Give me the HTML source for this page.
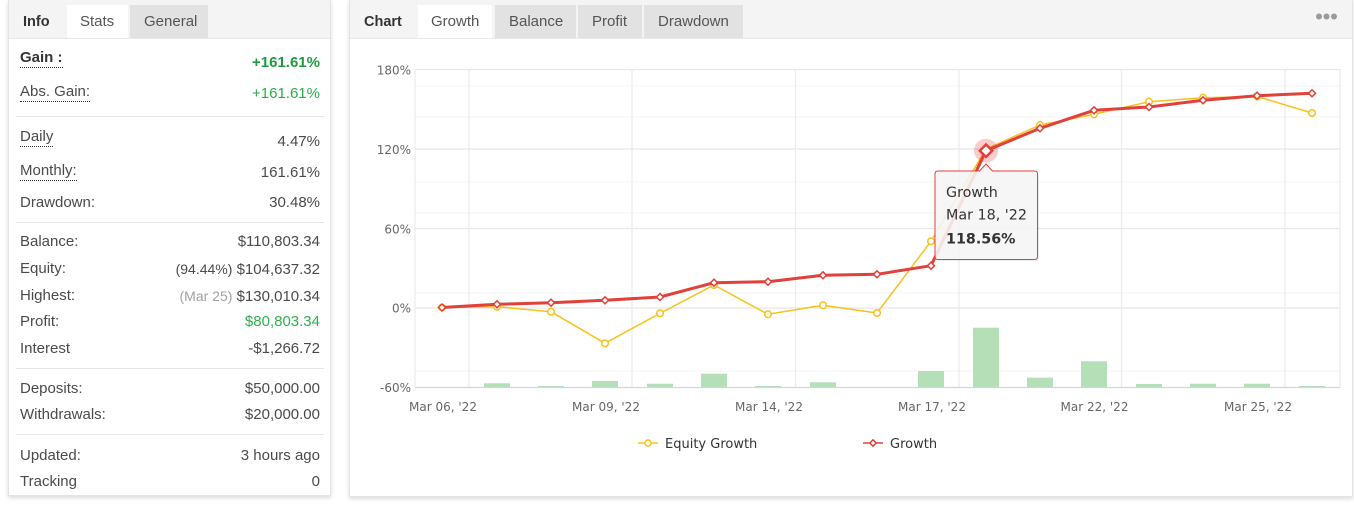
<!DOCTYPE html>
<html>
<head>
<meta charset="utf-8">
<style>
  html,body{margin:0;padding:0;background:#fff;}
  body{width:1354px;height:505px;position:relative;overflow:hidden;font-family:"Liberation Sans",Arial,sans-serif;}
  .panel{position:absolute;background:#fff;border:1px solid #e4e4e4;box-shadow:0 2px 4px rgba(0,0,0,0.14);box-sizing:border-box;}
  .hdr{position:absolute;background:#f4f4f4;border-bottom:1px solid #e9e9e9;box-sizing:border-box;}
  .tab{position:absolute;top:5px;height:33px;box-sizing:border-box;}
  .tab.act{background:#fff;}
  .tab.inact{background:#e2e2e2;}
  .t{position:absolute;line-height:20px;height:20px;white-space:nowrap;font-size:15px;color:#4a4a4a;margin-top:1.5px;}
  .lbl{left:20px;}
  .val{right:1034px;text-align:right;}
  .u{border-bottom:1px dotted #333;display:inline-block;line-height:19px;}
  .sep{position:absolute;left:16px;width:308px;height:1px;background:#e6e6e6;}
  .tt{position:absolute;line-height:20px;height:20px;top:11.5px;font-size:15px;color:#555;white-space:nowrap;}
</style>
</head>
<body>

<!-- LEFT PANEL -->
<div class="panel" style="left:8px;top:0;width:323px;height:496px;"></div>
<div class="hdr" style="left:9px;top:0;width:321px;height:39px;"></div>
<div class="tab act" style="left:67px;width:61px;"></div>
<div class="tab inact" style="left:130px;width:78px;"></div>
<div class="tt" style="left:23px;font-weight:bold;color:#333;font-size:14.5px;">Info</div>
<div class="tt" style="left:80px;">Stats</div>
<div class="tt" style="left:144px;">General</div>

<div class="t lbl" style="top:46.7px;font-weight:bold;color:#333;"><span class="u">Gain :</span></div>
<div class="t val" style="top:51px;font-weight:bold;color:#1f9a40;">+161.61%</div>
<div class="t lbl" style="top:80.7px;"><span class="u">Abs. Gain:</span></div>
<div class="t val" style="top:82.3px;color:#2aab4b;">+161.61%</div>
<div class="sep" style="top:116px;"></div>

<div class="t lbl" style="top:125.7px;"><span class="u">Daily</span></div>
<div class="t val" style="top:130px;">4.47%</div>
<div class="t lbl" style="top:159px;"><span class="u">Monthly:</span></div>
<div class="t val" style="top:161.7px;">161.61%</div>
<div class="t lbl" style="top:191.7px;">Drawdown:</div>
<div class="t val" style="top:191.7px;">30.48%</div>
<div class="sep" style="top:221.7px;"></div>

<div class="t lbl" style="top:230.7px;">Balance:</div>
<div class="t val" style="top:230.7px;">$110,803.34</div>
<div class="t lbl" style="top:257.3px;">Equity:</div>
<div class="t val" style="top:257.3px;"><span style="font-size:14px;">(94.44%)</span> $104,637.32</div>
<div class="t lbl" style="top:284.3px;">Highest:</div>
<div class="t val" style="top:284.3px;"><span style="color:#a0a0a0;font-size:14px;">(Mar 25)</span> $130,010.34</div>
<div class="t lbl" style="top:310.7px;">Profit:</div>
<div class="t val" style="top:310.7px;color:#2eb04f;">$80,803.34</div>
<div class="t lbl" style="top:337.7px;">Interest</div>
<div class="t val" style="top:337.7px;">-$1,266.72</div>
<div class="sep" style="top:367.7px;"></div>

<div class="t lbl" style="top:377.3px;">Deposits:</div>
<div class="t val" style="top:377.3px;">$50,000.00</div>
<div class="t lbl" style="top:403.7px;">Withdrawals:</div>
<div class="t val" style="top:403.7px;">$20,000.00</div>
<div class="sep" style="top:434px;"></div>

<div class="t lbl" style="top:444px;">Updated:</div>
<div class="t val" style="top:444px;">3 hours ago</div>
<div class="t lbl" style="top:470.3px;">Tracking</div>
<div class="t val" style="top:470.3px;">0</div>

<!-- RIGHT PANEL -->
<div class="panel" style="left:349px;top:0;width:1004px;height:497px;"></div>
<div class="hdr" style="left:350px;top:0;width:1002px;height:39px;"></div>
<div class="tab act" style="left:418px;width:74px;"></div>
<div class="tab inact" style="left:495px;width:81px;"></div>
<div class="tab inact" style="left:578px;width:64px;"></div>
<div class="tab inact" style="left:644px;width:99px;"></div>
<div class="tt" style="left:364px;font-weight:bold;color:#333;font-size:14.5px;">Chart</div>
<div class="tt" style="left:431px;">Growth</div>
<div class="tt" style="left:509px;">Balance</div>
<div class="tt" style="left:592px;">Profit</div>
<div class="tt" style="left:658px;">Drawdown</div>

<svg width="1354" height="505" style="position:absolute;left:0;top:0;" xmlns="http://www.w3.org/2000/svg">
  <!-- dots menu -->
  <circle cx="1319" cy="16.5" r="3" fill="#9a9a9a"/>
  <circle cx="1326.5" cy="16.5" r="3" fill="#9a9a9a"/>
  <circle cx="1334" cy="16.5" r="3" fill="#9a9a9a"/>

  <!-- faint secondary grid -->
  <g stroke="#f5f5f5" stroke-width="1">
    <line x1="415" y1="86" x2="1340" y2="86"/>
    <line x1="415" y1="117" x2="1340" y2="117"/>
    <line x1="415" y1="182" x2="1340" y2="182"/>
    <line x1="415" y1="213" x2="1340" y2="213"/>
    <line x1="415" y1="293" x2="1340" y2="293"/>
    <line x1="415" y1="371" x2="1340" y2="371"/>
  </g>
  <!-- main horizontal grid -->
  <g stroke="#e8e8e8" stroke-width="1.2">
    <line x1="415" y1="69.5" x2="1340" y2="69.5"/>
    <line x1="415" y1="149" x2="1340" y2="149"/>
    <line x1="415" y1="228.5" x2="1340" y2="228.5"/>
    <line x1="415" y1="308" x2="1340" y2="308"/>
  </g>
  <!-- vertical grid -->
  <g stroke="#ebebeb" stroke-width="1.2">
    <line x1="415" y1="69" x2="415" y2="387"/>
    <line x1="469" y1="69" x2="469" y2="387"/>
    <line x1="632" y1="69" x2="632" y2="387"/>
    <line x1="795.5" y1="69" x2="795.5" y2="387"/>
    <line x1="959" y1="69" x2="959" y2="387"/>
    <line x1="1121.5" y1="69" x2="1121.5" y2="387"/>
    <line x1="1285" y1="69" x2="1285" y2="387"/>
    <line x1="1340" y1="69" x2="1340" y2="387"/>
  </g>

  <!-- bars -->
  <g fill="#b5dfb7">
    <rect x="484" y="383.3" width="26" height="4"/>
    <rect x="538" y="386" width="26" height="1.5"/>
    <rect x="592" y="381" width="26" height="6.5"/>
    <rect x="647" y="383.7" width="26" height="3.8"/>
    <rect x="701" y="373.7" width="26" height="13.8"/>
    <rect x="755" y="386" width="26" height="1.5"/>
    <rect x="810" y="382.3" width="26" height="5.2"/>
    <rect x="918" y="371" width="26" height="16.5"/>
    <rect x="973" y="327.7" width="26" height="59.8"/>
    <rect x="1027" y="377.7" width="26" height="9.8"/>
    <rect x="1081" y="361.3" width="26" height="26.2"/>
    <rect x="1136" y="384" width="26" height="3.5"/>
    <rect x="1190" y="383.7" width="26" height="3.8"/>
    <rect x="1244" y="383.7" width="26" height="3.8"/>
    <rect x="1299" y="386" width="26" height="1.5"/>
  </g>
  <!-- x axis line -->
  <line x1="415" y1="387.5" x2="1340" y2="387.5" stroke="#ccd6eb" stroke-width="1.2"/>

  <!-- y labels -->
  <g font-family="DejaVu Sans, sans-serif" font-size="12" fill="#666" text-anchor="end">
    <text x="411" y="74.5">180%</text>
    <text x="411" y="154">120%</text>
    <text x="411" y="233.5">60%</text>
    <text x="411" y="312.5">0%</text>
    <text x="411" y="391.8">-60%</text>
  </g>
  <!-- x labels -->
  <g font-family="DejaVu Sans, sans-serif" font-size="12" fill="#666" text-anchor="middle">
    <text x="443" y="411">Mar 06, '22</text>
    <text x="606" y="411">Mar 09, '22</text>
    <text x="769" y="411">Mar 14, '22</text>
    <text x="932" y="411">Mar 17, '22</text>
    <text x="1094.5" y="411">Mar 22, '22</text>
    <text x="1258" y="411">Mar 25, '22</text>
  </g>

  <!-- equity growth (yellow) -->
  <polyline fill="none" stroke="#f6c21c" stroke-width="1.5" stroke-linejoin="round"
    points="442,307.5 497,306.7 551,311.7 605,343.3 660,313.3 714,285 768,314.3 823,305.3 877,313 931,241.3 986,149 1040,125 1094,114.3 1149,101.7 1203,97.7 1257,96.5 1312,113"/>
  <g fill="#fff" stroke="#f6c21c" stroke-width="1.5">
    <circle cx="442" cy="307.5" r="3.3"/><circle cx="497" cy="306.7" r="3.3"/>
    <circle cx="551" cy="311.7" r="3.3"/><circle cx="605" cy="343.3" r="3.3"/>
    <circle cx="660" cy="313.3" r="3.3"/><circle cx="714" cy="285" r="3.3"/>
    <circle cx="768" cy="314.3" r="3.3"/><circle cx="823" cy="305.3" r="3.3"/>
    <circle cx="877" cy="313" r="3.3"/><circle cx="931" cy="241.3" r="3.3"/>
    <circle cx="1040" cy="125" r="3.3"/>
    <circle cx="1094" cy="114.3" r="3.3"/><circle cx="1149" cy="101.7" r="3.3"/>
    <circle cx="1203" cy="97.7" r="3.3"/><circle cx="1257" cy="96.5" r="3.3"/>
    <circle cx="1312" cy="113" r="3.3"/>
  </g>

  <!-- growth (red) -->
  <polyline fill="none" stroke="#e2403a" stroke-width="3" stroke-linejoin="round"
    points="442,307.5 497,304.3 551,302.7 605,300.3 660,297 714,282.7 768,281.7 823,275.3 877,274.3 931,265.7 986,150.7 1040,128.3 1094,110.3 1149,107 1203,100.3 1257,95.7 1312,93.3"/>
  <g fill="#fff" stroke="#e2403a" stroke-width="1.5">
    <path d="M442,304 L445.5,307.5 L442,311 L438.5,307.5 Z"/>
    <path d="M497,300.8 L500.5,304.3 L497,307.8 L493.5,304.3 Z"/>
    <path d="M551,299.2 L554.5,302.7 L551,306.2 L547.5,302.7 Z"/>
    <path d="M605,296.8 L608.5,300.3 L605,303.8 L601.5,300.3 Z"/>
    <path d="M660,293.5 L663.5,297 L660,300.5 L656.5,297 Z"/>
    <path d="M714,279.2 L717.5,282.7 L714,286.2 L710.5,282.7 Z"/>
    <path d="M768,278.2 L771.5,281.7 L768,285.2 L764.5,281.7 Z"/>
    <path d="M823,271.8 L826.5,275.3 L823,278.8 L819.5,275.3 Z"/>
    <path d="M877,270.8 L880.5,274.3 L877,277.8 L873.5,274.3 Z"/>
    <path d="M931,262.2 L934.5,265.7 L931,269.2 L927.5,265.7 Z"/>
    <path d="M1040,124.8 L1043.5,128.3 L1040,131.8 L1036.5,128.3 Z"/>
    <path d="M1094,106.8 L1097.5,110.3 L1094,113.8 L1090.5,110.3 Z"/>
    <path d="M1149,103.5 L1152.5,107 L1149,110.5 L1145.5,107 Z"/>
    <path d="M1203,96.8 L1206.5,100.3 L1203,103.8 L1199.5,100.3 Z"/>
    <path d="M1257,92.2 L1260.5,95.7 L1257,99.2 L1253.5,95.7 Z"/>
    <path d="M1312,89.8 L1315.5,93.3 L1312,96.8 L1308.5,93.3 Z"/>
  </g>
  <!-- hover highlight -->
  <circle cx="986" cy="150.7" r="12" fill="rgba(229,57,53,0.25)"/>
  <path d="M986,144.5 L992.2,150.7 L986,156.9 L979.8,150.7 Z" fill="#fff" stroke="#e2403a" stroke-width="2.5"/>

  <!-- tooltip -->
  <path d="M938,171 L979.5,171 L986,164 L992.5,171 L1034.5,171 Q1037.5,171 1037.5,174 L1037.5,256.5 Q1037.5,259.5 1034.5,259.5 L938,259.5 Q935,259.5 935,256.5 L935,174 Q935,171 938,171 Z"
    fill="rgba(0,0,0,0.08)" transform="translate(1.5,1.5)"/>
  <path d="M938,171 L979.5,171 L986,164 L992.5,171 L1034.5,171 Q1037.5,171 1037.5,174 L1037.5,256.5 Q1037.5,259.5 1034.5,259.5 L938,259.5 Q935,259.5 935,256.5 L935,174 Q935,171 938,171 Z"
    fill="rgba(247,247,247,0.88)" stroke="#e2403a" stroke-width="1"/>
  <g font-family="DejaVu Sans, sans-serif" font-size="14.3" fill="#333">
    <text x="946" y="197">Growth</text>
    <text x="946" y="219.5">Mar 18, '22</text>
    <text x="946" y="243.5" font-weight="bold">118.56%</text>
  </g>

  <!-- legend -->
  <line x1="638" y1="443" x2="658" y2="443" stroke="#f6c21c" stroke-width="1.5"/>
  <circle cx="648" cy="443" r="3" fill="#fff" stroke="#f6c21c" stroke-width="1.5"/>
  <text x="665" y="447.8" font-family="DejaVu Sans, sans-serif" font-size="13" fill="#333">Equity Growth</text>
  <line x1="863" y1="443" x2="883" y2="443" stroke="#e2403a" stroke-width="1.5"/>
  <path d="M873,439.8 L876.2,443 L873,446.2 L869.8,443 Z" fill="#fff" stroke="#e2403a" stroke-width="1.5"/>
  <text x="890" y="447.8" font-family="DejaVu Sans, sans-serif" font-size="13" fill="#333">Growth</text>
</svg>

</body>
</html>
